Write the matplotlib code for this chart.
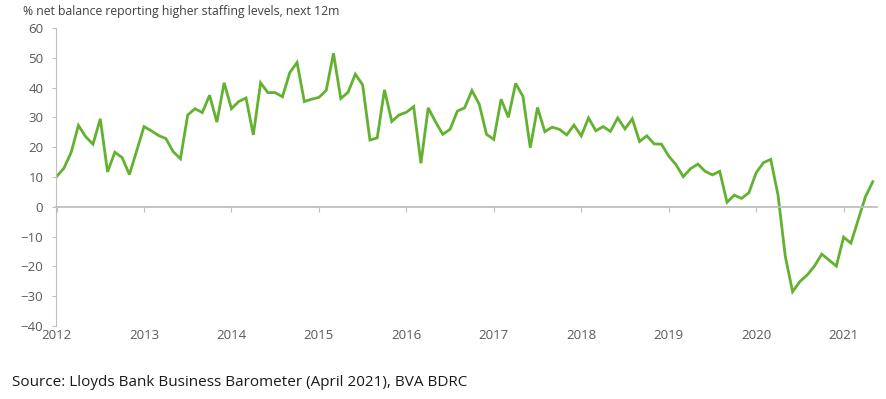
# Staffing intentions chart - % net balance reporting higher staffing levels
import numpy as np
import matplotlib.pyplot as plt

plt.rcParams['font.family'] = ['Open Sans', 'DejaVu Sans']

# Monthly values, Jan 2012 - May 2021
staffing_2012 = [10.1, 12.9, 18.2, 27.3, 23.5, 21.0, 29.5, 11.7, 18.3, 16.5, 10.8, 18.8]
staffing_2013 = [26.9, 25.5, 23.9, 22.9, 18.5, 16.1, 30.8, 32.9, 31.6, 37.4, 28.4, 41.6]
staffing_2014 = [32.9, 35.3, 36.5, 24.1, 41.6, 38.3, 38.3, 36.9, 45.0, 48.4, 35.3, 36.1]
staffing_2015 = [36.7, 39.0, 51.5, 36.3, 38.4, 44.5, 40.9, 22.4, 23.1, 39.2, 28.6, 30.8]
staffing_2016 = [31.7, 33.6, 14.6, 33.2, 28.5, 24.3, 26.0, 32.1, 33.2, 39.0, 34.4, 24.3]
staffing_2017 = [22.6, 36.1, 30.0, 41.4, 37.0, 19.8, 33.3, 25.2, 26.7, 26.0, 24.1, 27.4]
staffing_2018 = [23.8, 29.8, 25.5, 26.9, 25.3, 29.8, 26.1, 29.5, 21.9, 23.8, 21.1, 21.0]
staffing_2019 = [17.0, 14.1, 10.1, 12.8, 14.3, 11.9, 10.7, 11.9, 1.5, 3.9, 2.8, 4.7]
staffing_2020 = [11.4, 14.8, 15.9, 3.9, -16.7, -28.5, -25.1, -22.9, -19.9, -15.9, -17.9, -19.9]
staffing_2021 = [-10.2, -12.2, -4.4, 3.4, 8.4]

year_labels = ['2012', '2013', '2014', '2015', '2016', '2017', '2018', '2019', '2020', '2021']
y_ticks = [-40, -30, -20, -10, 0, 10, 20, 30, 40, 50, 60]

staffing = (staffing_2012 + staffing_2013 + staffing_2014 + staffing_2015 + staffing_2016
            + staffing_2017 + staffing_2018 + staffing_2019 + staffing_2020 + staffing_2021)
months = np.arange(len(staffing))
year_pos = [12 * i for i in range(len(year_labels))]

grey_axis = '#BFBFBF'
grey_text = '#595959'

fig = plt.figure(figsize=(8.86, 3.99), dpi=100)
ax = fig.add_axes([0.063, 0.183, 0.927, 0.747])

ax.plot(months, staffing, color='#62B22F', lw=2.0, solid_joinstyle='miter')

ax.set_xlim(-0.1, 112.6)
ax.set_ylim(-40, 60)
ax.set_yticks(y_ticks)

# spines: left axis plus a zero line carrying the year ticks
for side in ['top', 'right']:
    ax.spines[side].set_visible(False)
ax.spines['left'].set_color(grey_axis)
ax.spines['bottom'].set_color(grey_axis)
ax.spines['bottom'].set_linewidth(1.3)
ax.spines['bottom'].set_position(('data', 0))

ax.tick_params(axis='y', length=3, width=0.8, color=grey_axis, pad=6,
               labelsize=9.5, labelcolor=grey_text)
ax.set_xticks(year_pos)
ax.tick_params(axis='x', length=3.5, width=0.8, color=grey_axis, labelbottom=False)

# year labels sit under the plot area
sec = ax.secondary_xaxis('bottom')
sec.set_xticks(year_pos, labels=year_labels)
sec.tick_params(length=0, pad=2, labelsize=9.5, labelcolor=grey_text)
sec.spines['bottom'].set_visible(False)

fig.text(23 / 886, 1 - 12 / 399, '% net balance reporting higher staffing levels, next 12m',
         ha='left', va='center', fontsize=8.8, color='#404040')
fig.text(12 / 886, 1 - 382 / 399, 'Source: Lloyds Bank Business Barometer (April 2021), BVA BDRC',
         ha='left', va='center', fontsize=11, color='#1A1A1A')

fig.savefig('out.png', dpi=100)
